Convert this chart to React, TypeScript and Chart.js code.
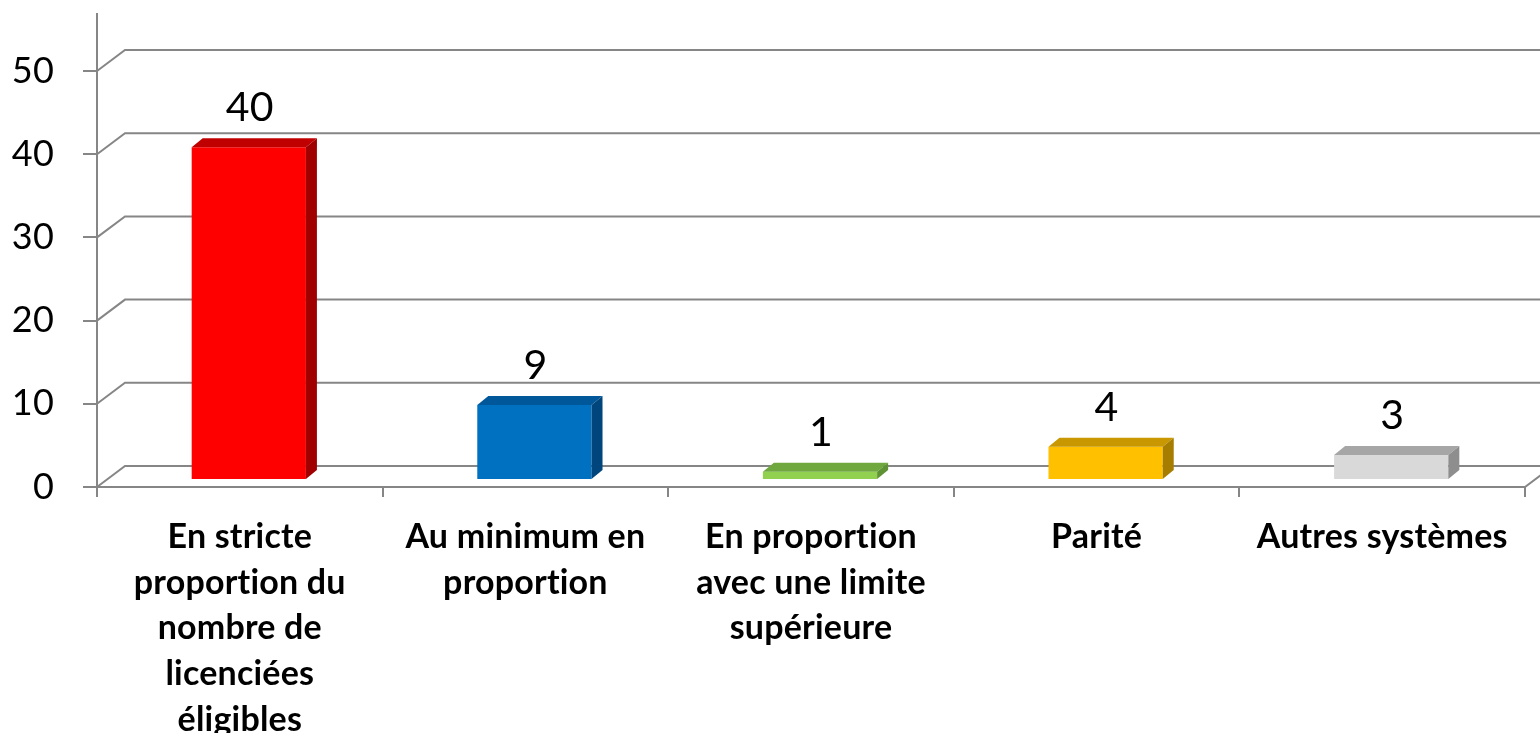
import React, { useEffect, useRef } from "react";
import { Chart, registerables } from "chart.js";

Chart.register(...registerables);

const categories: string[][] = [
  ["En stricte", "proportion du", "nombre de", "licenciées", "éligibles"],
  ["Au minimum en", "proportion"],
  ["En proportion", "avec une limite", "supérieure"],
  ["Parité"],
  ["Autres systèmes"],
];
const values: number[] = [40, 9, 1, 4, 3];
const yMin = 0;
const yMax = 50;
const yStep = 10;

const frontColors = ["#FF0000", "#0070C0", "#92D050", "#FFC000", "#D9D9D9"];
const topColors = ["#C00000", "#00589A", "#6FA83E", "#C99700", "#A6A6A6"];
const sideColors = ["#A00000", "#00467C", "#5E9234", "#A77D00", "#8E8E8E"];

const GRID = "#868686";
const FONT = "Lato";
const DEPTH_X = 28;
const DEPTH_Y = -21;
const BAR_OFF_X = 9;
const BAR_OFF_Y = -7;
const BAR_DEPTH_X = 11;
const BAR_DEPTH_Y = -9;

const threeD = {
  id: "threeD",
  beforeDraw(chart: any) {
    const ctx = chart.ctx;
    if ("letterSpacing" in ctx) ctx.letterSpacing = "0.2px";
  },
  beforeDatasetsDraw(chart: any) {
    const { ctx, chartArea, scales } = chart;
    const y = scales.y;
    const left = chartArea.left;
    const right = chartArea.right;
    ctx.save();
    ctx.strokeStyle = GRID;
    ctx.lineWidth = 2;
    ctx.lineCap = "butt";
    for (let v = yMin; v <= yMax; v += yStep) {
      const py = y.getPixelForValue(v);
      ctx.beginPath();
      ctx.moveTo(left, py);
      ctx.lineTo(left + DEPTH_X, py + DEPTH_Y);
      ctx.lineTo(chart.width + 5, py + DEPTH_Y);
      ctx.stroke();
    }
    const y0 = y.getPixelForValue(0);
    ctx.beginPath();
    ctx.moveTo(left, y0);
    ctx.lineTo(right, y0);
    ctx.lineTo(right + DEPTH_X, y0 + DEPTH_Y);
    ctx.stroke();
    ctx.beginPath();
    ctx.moveTo(left, 13);
    ctx.lineTo(left, y0);
    ctx.stroke();
    ctx.restore();
    ctx.save();
    ctx.translate(BAR_OFF_X, BAR_OFF_Y);
  },
  afterDatasetsDraw(chart: any) {
    const { ctx } = chart;
    ctx.restore();
    const meta = chart.getDatasetMeta(0);
    ctx.save();
    meta.data.forEach((bar: any, i: number) => {
      const p = bar.getProps(["x", "y", "base", "width"], true);
      const x1 = p.x - p.width / 2 + BAR_OFF_X;
      const x2 = p.x + p.width / 2 + BAR_OFF_X;
      const yt = p.y + BAR_OFF_Y;
      const yb = p.base + BAR_OFF_Y;
      ctx.fillStyle = topColors[i];
      ctx.beginPath();
      ctx.moveTo(x1, yt);
      ctx.lineTo(x2, yt);
      ctx.lineTo(x2 + BAR_DEPTH_X, yt + BAR_DEPTH_Y);
      ctx.lineTo(x1 + BAR_DEPTH_X, yt + BAR_DEPTH_Y);
      ctx.closePath();
      ctx.fill();
      ctx.fillStyle = sideColors[i];
      ctx.beginPath();
      ctx.moveTo(x2, yt);
      ctx.lineTo(x2 + BAR_DEPTH_X, yt + BAR_DEPTH_Y);
      ctx.lineTo(x2 + BAR_DEPTH_X, yb + BAR_DEPTH_Y);
      ctx.lineTo(x2, yb);
      ctx.closePath();
      ctx.fill();
      ctx.fillStyle = "#000000";
      ctx.font = `41px ${FONT}`;
      ctx.textAlign = "center";
      ctx.textBaseline = "middle";
      ctx.fillText(String(values[i]), (x1 + x2) / 2 + 1, yt + BAR_DEPTH_Y - 30);
    });
    ctx.restore();
  },
};

export default function App() {
  const ref = useRef<HTMLCanvasElement | null>(null);
  useEffect(() => {
    if (!ref.current) return;
    const chart = new Chart(ref.current, {
      type: "bar",
      data: {
        labels: categories,
        datasets: [
          {
            data: values,
            backgroundColor: frontColors,
            borderWidth: 0,
            barPercentage: 0.4,
            categoryPercentage: 1,
          },
        ],
      },
      options: {
        animation: false,
        responsive: false,
        maintainAspectRatio: false,
        layout: { padding: { left: 0, right: 15, top: 71, bottom: 0 } },
        plugins: { legend: { display: false }, tooltip: { enabled: false } },
        scales: {
          x: {
            offset: true,
            afterFit: (s: any) => {
              s.height = 733 - 487;
            },
            grid: {
              offset: true,
              drawOnChartArea: false,
              drawTicks: true,
              tickLength: 10,
              color: GRID,
              lineWidth: 2,
            },
            border: { display: false },
            ticks: {
              autoSkip: false,
              maxRotation: 0,
              minRotation: 0,
              padding: 17,
              color: "#000000",
              font: { family: FONT, size: 34, weight: "bold", lineHeight: 1.345 },
            },
          },
          y: {
            min: yMin,
            max: yMax,
            afterFit: (s: any) => {
              s.width = 97;
            },
            grid: {
              drawOnChartArea: false,
              drawTicks: true,
              tickLength: 14,
              color: GRID,
              lineWidth: 2,
            },
            border: { display: false },
            ticks: {
              stepSize: yStep,
              padding: 29,
              color: "#000000",
              font: { family: FONT, size: 36 },
            },
          },
        },
      },
      plugins: [threeD],
    });
    return () => chart.destroy();
  }, []);
  return (
    <div style={{ position: "fixed", left: 0, top: 0, width: 1540, height: 733, background: "#fff" }}>
      <canvas ref={ref} width={1540} height={733} style={{ width: 1540, height: 733 }} />
    </div>
  );
}
